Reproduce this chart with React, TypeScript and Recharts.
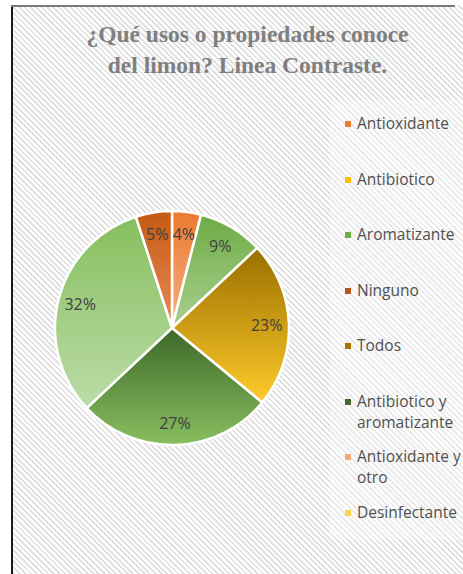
import React from "react";
import { PieChart, Pie, Cell, Legend } from "recharts";

// Legend categories (legend in source shows 8 entries)
const categories = [
  "Antioxidante",
  "Antibiotico",
  "Aromatizante",
  "Ninguno",
  "Todos",
  "Antibiotico y aromatizante",
  "Antioxidante y otro",
  "Desinfectante",
];
const categoryValues = [4, 0, 9, 0, 23, 27, 0, 0];
// Two further categories appear in the pie but their legend entries are cut off in the source
const extraNames = ["(9)", "(10)"];
const extraValues = [32, 5];

const legendColors = [
  "#ED7D31",
  "#FFC000",
  "#70AD47",
  "#B4531A",
  "#A07800",
  "#43682B",
  "#F4A97A",
  "#FFD24D",
];
// gradient stops [top, bottom] for each slice
const sliceGradients: [string, string][] = [
  ["#EC7A2E", "#F5B088"],
  ["#FFC000", "#FFD966"],
  ["#6DAB45", "#A9D18E"],
  ["#9E480E", "#D07A45"],
  ["#996F00", "#FFCB2A"],
  ["#3D6828", "#88BF60"],
  ["#F4B183", "#F8CBAD"],
  ["#FFD24D", "#FFE699"],
  ["#86BF5E", "#BCDCA8"],
  ["#C55A11", "#E68C58"],
];

const title = ["¿Qué usos o propiedades conoce", "del limon? Linea Contraste."];

const data = [
  ...categories.map((name, i) => ({ name, value: categoryValues[i] })),
  ...extraNames.map((name, i) => ({ name, value: extraValues[i] })),
];

const RADIAN = Math.PI / 180;

const renderLabel = (props: any) => {
  const { cx, cy, midAngle, outerRadius, value } = props;
  if (!value) return null;
  const r = outerRadius * 0.81;
  const x = cx + r * Math.cos(-midAngle * RADIAN);
  const y = cy + r * Math.sin(-midAngle * RADIAN);
  return (
    <text
      x={x}
      y={y}
      textAnchor="middle"
      dominantBaseline="central"
      fill="#404040"
      fontSize={16}
      fontFamily="'Open Sans', sans-serif"
    >
      {`${value}%`}
    </text>
  );
};

const LegendBox = () => (
  <div style={{ position: "relative", width: 130, height: 430 }}>
    {categories.map((c, i) => {
      const lines = c === "Antibiotico y aromatizante"
        ? ["Antibiotico y", "aromatizante"]
        : c === "Antioxidante y otro"
        ? ["Antioxidante y", "otro"]
        : [c];
      return (
        <div
          key={c}
          style={{
            position: "absolute",
            left: 0,
            top: i * 55.5,
            display: "flex",
            alignItems: "flex-start",
          }}
        >
          <div
            style={{
              width: 6,
              height: 6,
              marginTop: 8,
              marginRight: 6,
              background: legendColors[i],
              flex: "none",
            }}
          />
          <div
            style={{
              fontFamily: "'Open Sans', sans-serif",
              fontSize: 15.5,
              lineHeight: "21px",
              color: "#505050",
              whiteSpace: "nowrap",
            }}
          >
            {lines.map((l) => (
              <div key={l}>{l}</div>
            ))}
          </div>
        </div>
      );
    })}
  </div>
);

export default function App() {
  return (
    <div
      style={{
        position: "absolute",
        left: 0,
        top: 0,
        width: 463,
        height: 574,
        overflow: "hidden",
        background: "#ffffff",
      }}
    >
      <div
        style={{
          position: "absolute",
          left: 11,
          top: 5,
          width: 470,
          height: 600,
          borderLeft: "2px solid #1a1a1a",
          background:
            "repeating-linear-gradient(45deg, #ffffff 0px, #ffffff 2px, #e2e2e2 2px, #e2e2e2 4px)",
        }}
      />
      <div
        style={{
          position: "absolute",
          left: 11,
          top: 5,
          width: 444,
          height: 2,
          background: "#7a7a7a",
        }}
      />
      <div
        style={{
          position: "absolute",
          left: 330,
          top: 100,
          width: 140,
          height: 440,
          background: "rgba(255,255,255,0.3)",
        }}
      />
      <div
        style={{
          position: "absolute",
          left: 40,
          top: 19,
          width: 415,
          textAlign: "center",
          fontFamily: "'Liberation Serif', serif",
          fontWeight: "bold",
          fontSize: 23.5,
          lineHeight: "31px",
          color: "#7f7f7f",
        }}
      >
        {title.map((t) => (
          <div key={t}>{t}</div>
        ))}
      </div>
      <div style={{ position: "absolute", left: 0, top: 0 }}>
        <PieChart
          width={463}
          height={574}
          margin={{ top: 0, right: 0, bottom: 0, left: 0 }}
        >
          <defs>
            {sliceGradients.map(([a, b], i) => (
              <linearGradient key={i} id={`sg${i}`} x1="0" y1="0" x2="0" y2="1">
                <stop offset="0%" stopColor={a} />
                <stop offset="100%" stopColor={b} />
              </linearGradient>
            ))}
          </defs>
          <Pie
            data={data}
            dataKey="value"
            nameKey="name"
            cx={172}
            cy={328}
            outerRadius={117}
            startAngle={90}
            endAngle={-270}
            stroke="#ffffff"
            strokeWidth={2.5}
            label={renderLabel}
            labelLine={false}
            isAnimationActive={false}
          >
            {data.map((d, i) => (
              <Cell key={i} fill={`url(#sg${i})`} />
            ))}
          </Pie>
          <Legend
            layout="vertical"
            verticalAlign="top"
            align="right"
            content={() => <LegendBox />}
            wrapperStyle={{ left: 345, top: 113, width: 130 }}
          />
        </PieChart>
      </div>
    </div>
  );
}
